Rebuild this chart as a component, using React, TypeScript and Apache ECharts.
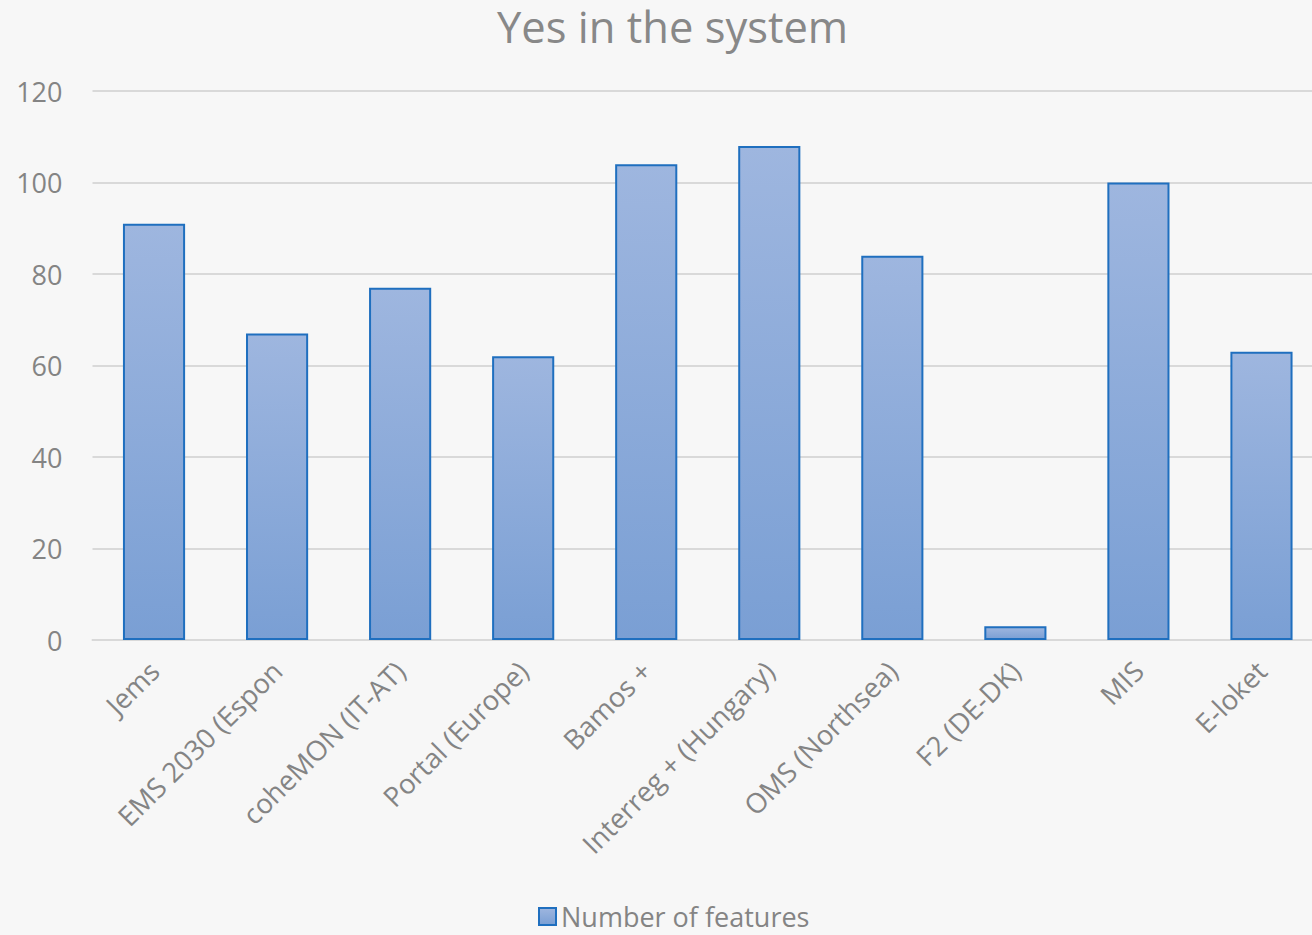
import React, { useEffect, useRef } from "react";
import * as echarts from "echarts";

const categories = [
  "Jems",
  "EMS 2030 (Espon",
  "coheMON (IT-AT)",
  "Portal (Europe)",
  "Bamos +",
  "Interreg + (Hungary)",
  "OMS (Northsea)",
  "F2 (DE-DK)",
  "MIS",
  "E-loket",
];
const values = [91, 67, 77, 62, 104, 108, 84, 3, 100, 63];
const seriesName = "Number of features";
const titleText = "Yes in the system";

export default function App() {
  const ref = useRef<HTMLDivElement>(null);
  useEffect(() => {
    if (!ref.current) return;
    const chart = echarts.init(ref.current, null, { renderer: "svg" });
    const font = "'Open Sans', sans-serif";
    const gray = "#848484";
    chart.setOption({
      animation: false,
      backgroundColor: "#f7f7f7",
      title: {
        text: titleText,
        left: 497,
        top: 4,
        padding: 0,
        textStyle: {
          fontFamily: font,
          fontSize: 43.5,
          fontWeight: "normal",
          color: "#888888",
        },
      },
      legend: {
        bottom: 0,
        left: 533,
        icon: "rect",
        itemWidth: 17,
        itemHeight: 17,
        itemGap: 10,
        textStyle: { fontFamily: font, fontSize: 27, color: gray },
        data: [seriesName],
      },
      grid: { left: 92.5, right: 0, top: 91, bottom: 295, containLabel: false },
      xAxis: {
        type: "category",
        data: categories,
        axisTick: { show: false },
        axisLine: { lineStyle: { color: "#d9d9d9", width: 2 } },
        axisLabel: {
          rotate: 45,
          interval: 0,
          margin: 26,
          fontFamily: font,
          fontSize: 27.5,
          color: gray,
        },
      },
      yAxis: {
        type: "value",
        min: 0,
        max: 120,
        interval: 20,
        axisLine: { show: false },
        axisTick: { show: false },
        splitLine: { lineStyle: { color: "#d9d9d9", width: 2 } },
        axisLabel: { margin: 30, fontFamily: font, fontSize: 27, color: gray },
      },
      series: [
        {
          name: seriesName,
          type: "bar",
          data: values,
          barWidth: "50.5%",
          itemStyle: {
            color: new echarts.graphic.LinearGradient(0, 0, 0, 1, [
              { offset: 0, color: "#9eb6df" },
              { offset: 1, color: "#7a9fd4" },
            ]),
            borderColor: "#1f6fbf",
            borderWidth: 2,
          },
        },
      ],
    });
    return () => chart.dispose();
  }, []);
  return (
    <div
      style={{
        position: "fixed",
        left: 0,
        top: 0,
        width: 1312,
        height: 935,
        overflow: "hidden",
        background: "#f7f7f7",
      }}
    >
      <div ref={ref} style={{ width: 1322.5, height: 935 }} />
    </div>
  );
}
